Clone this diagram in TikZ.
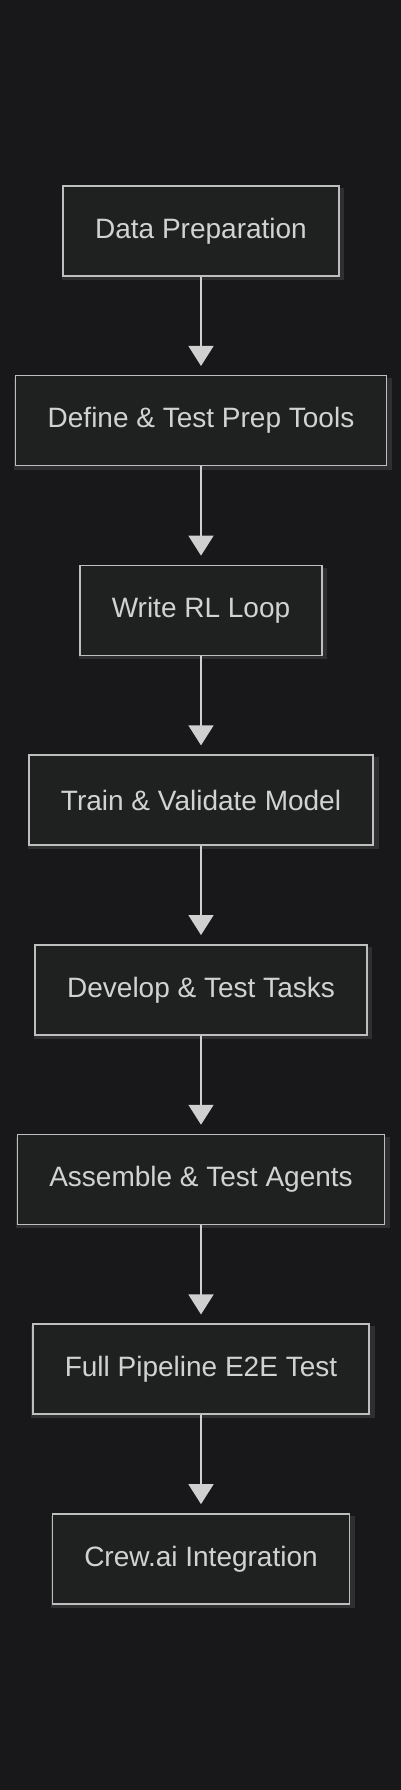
\documentclass[tikz,border=0pt]{standalone}
\usepackage{fontspec}
\setmainfont{Liberation Sans}
\usetikzlibrary{arrows.meta,positioning,shadows}
\definecolor{pagebg}{HTML}{18181A}
\definecolor{boxfill}{HTML}{1F2120}
\definecolor{boxline}{HTML}{BEBEBE}
\definecolor{boxtext}{HTML}{D2D2D2}
\definecolor{flowline}{HTML}{D0D0D0}

\begin{document}
\begin{tikzpicture}[x=1pt,y=1pt,
  stage/.style={draw=boxline, line width=1.5pt, fill=boxfill, text=boxtext,
    font=\fontsize{28}{32}\selectfont, minimum height=90pt, inner xsep=32pt,
    general shadow={fill=white, opacity=0.10, shadow xshift=2pt, shadow yshift=-3pt, shadow scale=1.02}},
  flow/.style={-{Triangle[width=25pt,length=20pt]}, draw=flowline, fill=flowline,
    line width=1.5pt, shorten >=9pt}]
\fill[pagebg] (0,0) rectangle (401,-1790);
\useasboundingbox (0,0) rectangle (401,-1790);
% stages, top to bottom
\node[stage] (prep) at (201,-231) {Data Preparation};
\node[stage, below=98.2pt of prep] (tools) {Define \& Test Prep Tools};
\node[stage, below=98.2pt of tools] (rlloop) {Write RL Loop};
\node[stage, below=98.2pt of rlloop] (train) {Train \& Validate Model};
\node[stage, below=98.2pt of train] (tasks) {Develop \& Test Tasks};
\node[stage, below=98.2pt of tasks] (agents) {Assemble \& Test Agents};
\node[stage, below=98.2pt of agents] (e2e) {Full Pipeline E2E Test};
\node[stage, below=98.2pt of e2e] (crew) {Crew.ai Integration};
% connectors
\draw[flow] (prep) -- (tools);
\draw[flow] (tools) -- (rlloop);
\draw[flow] (rlloop) -- (train);
\draw[flow] (train) -- (tasks);
\draw[flow] (tasks) -- (agents);
\draw[flow] (agents) -- (e2e);
\draw[flow] (e2e) -- (crew);
\end{tikzpicture}
\end{document}
